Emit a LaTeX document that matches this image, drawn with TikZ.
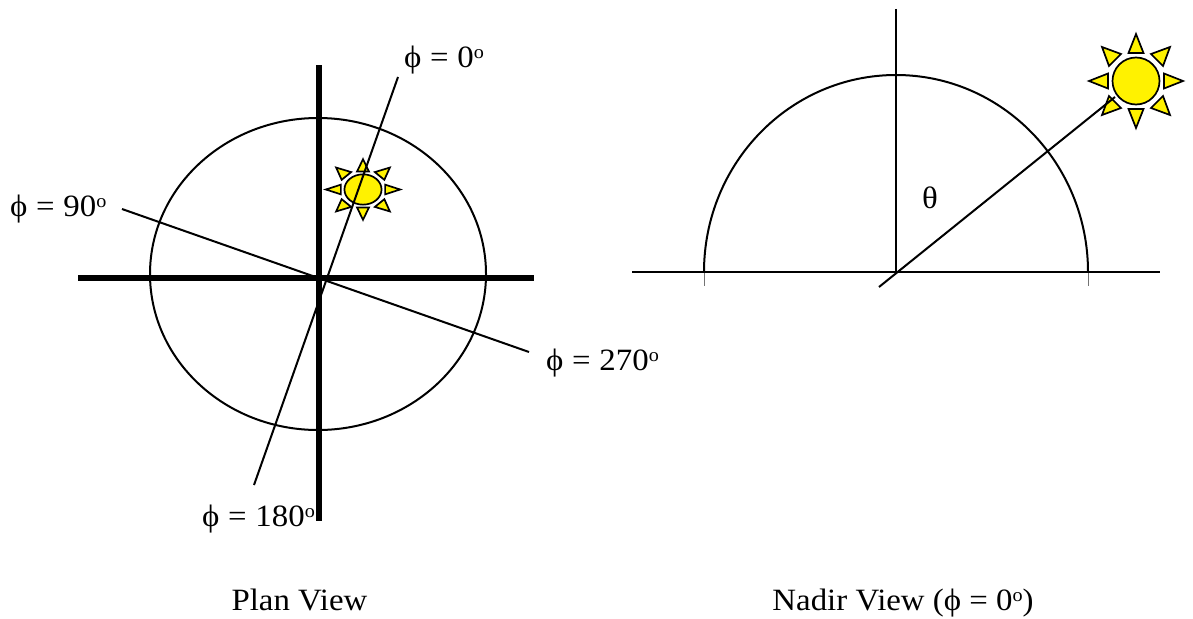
\documentclass[tikz,border=0pt]{standalone}
\usepackage{fontspec}
\setmainfont[FakeStretch=1.06]{Liberation Serif}
\newcommand{\sunshape}[4]{% cx, cy, xs, ys
  \begin{scope}[shift={(#1,#2)},xscale=#3,yscale=#4]
    \draw[ray] (0,-47) -- (7.5,-28) -- (-7.5,-28) -- cycle;
    \draw[ray] (0,47) -- (7.5,28) -- (-7.5,28) -- cycle;
    \draw[ray] (-47,0) -- (-28,7.5) -- (-28,-7.5) -- cycle;
    \draw[ray] (47,0) -- (28,7.5) -- (28,-7.5) -- cycle;
    \draw[ray] (34,-34) -- (15,-27) -- (27,-15) -- cycle;
    \draw[ray] (-34,-34) -- (-15,-27) -- (-27,-15) -- cycle;
    \draw[ray] (34,34) -- (15,27) -- (27,15) -- cycle;
    \draw[ray] (-34,34) -- (-15,27) -- (-27,15) -- cycle;
    \draw[ray] (0,0) circle[radius=23.5];
  \end{scope}}
\newcommand{\degmark}{\raisebox{8.5pt}{\fontsize{19}{19}\selectfont o}}
\newcommand{\phieq}{ϕ\hspace{0.5pt} = \hspace{0.5pt}}
\tikzset{
  ray/.style={draw=black,fill=yellow,line width=1.7pt,line join=miter},
  thickaxis/.style={line width=6pt,draw=black},
  thinline/.style={line width=2pt,draw=black},
  lab/.style={font=\fontsize{31}{34}\selectfont,inner sep=0pt,anchor=base west},
  captext/.style={font=\fontsize{31}{34}\selectfont,inner sep=0pt,anchor=base},
  tickline/.style={line width=0.7pt,draw=black!55}
}
\begin{document}
\begin{tikzpicture}[x=1pt,y=-1pt]
\useasboundingbox (0,0) rectangle (1193,618);
% plan view
\coordinate (vt) at (319,65); \coordinate (vb) at (319,521);
\coordinate (hl) at (78,278); \coordinate (hr) at (534,278);
\coordinate (p0) at (398,77); \coordinate (p180) at (254,485);
\coordinate (p90) at (122,209); \coordinate (p270) at (529,352);
\draw[thinline] (318,274) ellipse[x radius=168,y radius=156];
\draw[thickaxis] (vt) -- (vb);
\draw[thickaxis] (hl) -- (hr);
\sunshape{363}{189.5}{0.79}{0.645}
\draw[thinline] (p0) -- (p180);
\draw[thinline] (p90) -- (p270);
\node[lab] (l0) at (404,67) {\phieq 0\degmark};
\node[lab] (l90) at (10,216) {\phieq 90\degmark};
\node[lab] (l270) at (546,370) {\phieq 270\degmark};
\node[lab] (l180) at (202,526) {\phieq 180\degmark};
\node[captext] (cp) at (299.5,610) {Plan View};
% nadir view
\coordinate (h2l) at (632,272); \coordinate (h2r) at (1160,272);
\coordinate (v2t) at (896,9); \coordinate (v2b) at (896,272);
\coordinate (s1) at (879,287); \coordinate (s2) at (1115,97);
\draw[thinline] (704,272) arc[start angle=180,end angle=360,x radius=192,y radius=197];
\draw[tickline] (704,272) -- (704,286);
\draw[tickline] (1088,272) -- (1088,286);
\draw[thinline] (h2l) -- (h2r);
\draw[thinline] (v2t) -- (v2b);
\sunshape{1136}{81}{1}{1}
\draw[thinline] (s1) -- (s2);
\node[lab] (th) at (922,208) {θ};
\node[captext] (cn) at (903,610) {Nadir View (ϕ = 0\degmark)};
\end{tikzpicture}
\end{document}
